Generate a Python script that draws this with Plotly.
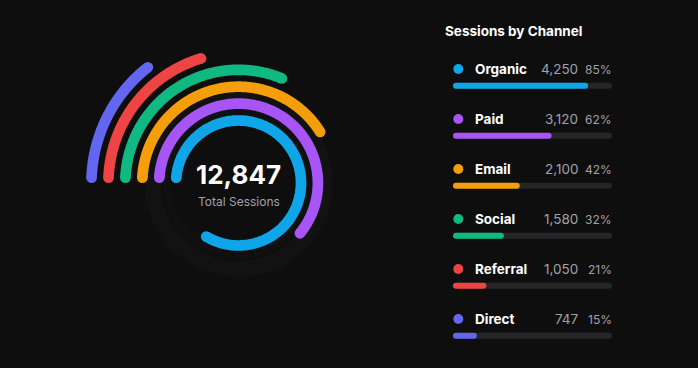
import numpy as np
import plotly.graph_objects as go

# ---------------- data ----------------
channels = ["Organic", "Paid", "Email", "Social", "Referral", "Direct"]
sessions = [4250, 3120, 2100, 1580, 1050, 747]
percents = [85, 62, 42, 32, 21, 15]
colors = ["#0ea5e9", "#a855f7", "#f59e0b", "#10b981", "#ef4444", "#6366f1"]
total_sessions = 12847
total_label = "Total Sessions"
panel_title = "Sessions by Channel"

# ---------------- styling / geometry ----------------
W, H = 698, 368
BG = "#0e0e0f"
FONT = "Inter"
CX, CY = 238.5, 183.0          # ring centre in px (from top-left)
R0, STEP, RW = 62.5, 16.9, 10.7  # ring radius, spacing, thickness
RMAX = 160.0
PAD = 2  # annotation padding compensation

fig = go.Figure()

# faint shadow ring
fig.add_trace(go.Scatterpolar(
    r=[86] * 361, theta=np.arange(0, 361), mode="lines",
    line=dict(color="rgba(255,255,255,0.018)", width=16),
    hoverinfo="skip", showlegend=False, subplot="polar"))
fig.add_trace(go.Scatterpolar(
    r=[72] * 361, theta=np.arange(0, 361), mode="lines",
    line=dict(color="rgba(255,255,255,0.012)", width=8),
    hoverinfo="skip", showlegend=False, subplot="polar"))

for i, (pct, col) in enumerate(zip(percents, colors)):
    r = R0 + i * STEP
    sweep = pct / 100 * 360
    inset = np.degrees((RW / 2) / r)
    th = np.linspace(270 + inset, 270 + sweep - inset, 240)
    fig.add_trace(go.Scatterpolar(
        r=np.full(th.size, r), theta=th, mode="lines",
        line=dict(color=col, width=RW),
        hoverinfo="skip", showlegend=False, subplot="polar", cliponaxis=False))
    fig.add_trace(go.Scatterpolar(
        r=[r, r], theta=[th[0], th[-1]], mode="markers",
        marker=dict(color=col, size=RW, line=dict(width=0)),
        hoverinfo="skip", showlegend=False, subplot="polar", cliponaxis=False))

# ---------------- legend panel (pixel coordinates on a hidden cartesian axis) ----------------
ROW0, ROWSTEP = 69.0, 50.0
BAR_X0, BAR_LEN, BAR_DY, BAR_T = 453.0, 159.0, 16.7, 6.0
rows = [ROW0 + i * ROWSTEP for i in range(len(channels))]
bar_y = [y + BAR_DY for y in rows]

fig.add_trace(go.Bar(
    x=[BAR_LEN] * len(channels), y=bar_y, base=BAR_X0, orientation="h",
    width=BAR_T, marker=dict(color="#262629", line=dict(width=0)),
    hoverinfo="skip", showlegend=False, xaxis="x", yaxis="y"))
fig.add_trace(go.Bar(
    x=[p / 100 * BAR_LEN for p in percents], y=bar_y, base=BAR_X0, orientation="h",
    width=BAR_T, marker=dict(color=colors, line=dict(width=0)),
    hoverinfo="skip", showlegend=False, xaxis="x", yaxis="y"))
fig.add_trace(go.Scatter(
    x=[458.3] * len(channels), y=rows, mode="markers",
    marker=dict(color=colors, size=10, line=dict(width=0)),
    hoverinfo="skip", showlegend=False, xaxis="x", yaxis="y"))

ann = []
ann.append(dict(x=445 - PAD, y=31, xref="x", yref="y", text=panel_title, showarrow=False,
                xanchor="left", yanchor="middle",
                font=dict(family=FONT, size=13.5, color="#ffffff", weight=700)))
for name, val, pct, y in zip(channels, sessions, percents, rows):
    ann.append(dict(x=475 - PAD, y=y, xref="x", yref="y", text=name, showarrow=False,
                    xanchor="left", yanchor="middle",
                    font=dict(family=FONT, size=13.5, color="#ffffff", weight=700)))
    ann.append(dict(x=577.5 + PAD, y=y, xref="x", yref="y", text=f"{val:,}", showarrow=False,
                    xanchor="right", yanchor="middle",
                    font=dict(family=FONT, size=13.5, color="#a1a1aa")))
    ann.append(dict(x=612 + PAD, y=y, xref="x", yref="y", text=f"{pct}%", showarrow=False,
                    xanchor="right", yanchor="middle",
                    font=dict(family=FONT, size=12, color="#a1a1aa")))

ann.append(dict(x=CX, y=174.5, xref="x", yref="y", text=f"{total_sessions:,}", showarrow=False,
                xanchor="center", yanchor="middle",
                font=dict(family=FONT, size=26, color="#ffffff", weight=700)))
ann.append(dict(x=CX, y=201.5, xref="x", yref="y", text=total_label, showarrow=False,
                xanchor="center", yanchor="middle",
                font=dict(family=FONT, size=12, color="#a1a1aa")))

# polar domain: square of side 2*RMAX centred on (CX, CY)
dx0, dx1 = (CX - RMAX) / W, (CX + RMAX) / W
dy0, dy1 = (H - CY - RMAX) / H, (H - CY + RMAX) / H

fig.update_layout(
    width=W, height=H,
    margin=dict(l=0, r=0, t=0, b=0),
    paper_bgcolor=BG, plot_bgcolor="rgba(0,0,0,0)",
    barmode="overlay", barcornerradius=3,
    font=dict(family=FONT),
    showlegend=False,
    annotations=ann,
    xaxis=dict(domain=[0, 1], range=[0, W], visible=False, fixedrange=True),
    yaxis=dict(domain=[0, 1], range=[H, 0], visible=False, fixedrange=True),
    polar=dict(
        domain=dict(x=[dx0, dx1], y=[dy0, dy1]),
        bgcolor="rgba(0,0,0,0)",
        hole=0,
        radialaxis=dict(range=[0, RMAX], visible=False, showgrid=False),
        angularaxis=dict(rotation=90, direction="clockwise", visible=False, showgrid=False),
    ),
)

fig.write_html(
    "out.html",
    config={"displayModeBar": False},
    post_script="document.body.style.margin='0';document.body.style.background='#0e0e0f';",
)
